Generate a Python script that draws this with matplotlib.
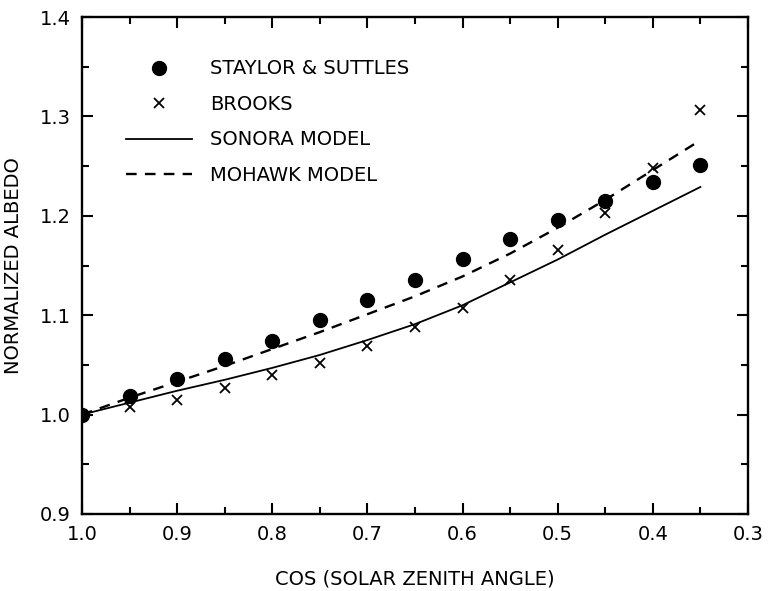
import matplotlib.pyplot as plt
from matplotlib.ticker import MultipleLocator

# cos(solar zenith angle) values
cos_sza = [1.0, 0.95, 0.9, 0.85, 0.8, 0.75, 0.7, 0.65, 0.6, 0.55, 0.5, 0.45, 0.4, 0.35]

staylor = [1.000, 1.019, 1.036, 1.056, 1.074, 1.095, 1.115, 1.135, 1.157, 1.177, 1.196, 1.215, 1.234, 1.251]
brooks = [1.000, 1.008, 1.015, 1.027, 1.040, 1.052, 1.069, 1.088, 1.107, 1.135, 1.166, 1.203, 1.248, 1.306]

# model curves
sonora = [1.000, 1.012, 1.024, 1.035, 1.047, 1.060, 1.075, 1.091, 1.110, 1.133, 1.156, 1.181, 1.205, 1.229]
mohawk = [1.000, 1.017, 1.033, 1.049, 1.066, 1.083, 1.101, 1.119, 1.139, 1.162, 1.188, 1.216, 1.246, 1.276]

plt.rcParams["font.family"] = "DejaVu Sans"

fig = plt.figure(figsize=(7.69, 5.91), dpi=100)
ax = fig.add_axes([0.1066, 0.1303, 0.866, 0.8409])

ax.plot(cos_sza, staylor, "o", color="black", markersize=10, label="STAYLOR & SUTTLES")
ax.plot(cos_sza, brooks, "x", color="black", markersize=7, markeredgewidth=1.3, label="BROOKS")
ax.plot(cos_sza, sonora, "-", color="black", linewidth=1.3, label="SONORA MODEL")
ax.plot(cos_sza, mohawk, "--", color="black", linewidth=1.7, dashes=(4.5, 3.5), label="MOHAWK MODEL")

ax.set_xlim(1.0, 0.3)
ax.set_ylim(0.9, 1.4)
ax.xaxis.set_major_locator(MultipleLocator(0.1))
ax.xaxis.set_minor_locator(MultipleLocator(0.05))
ax.yaxis.set_major_locator(MultipleLocator(0.1))
ax.yaxis.set_minor_locator(MultipleLocator(0.05))
ax.xaxis.set_major_formatter(plt.FuncFormatter(lambda v, p: f"{v:.1f}"))
ax.yaxis.set_major_formatter(plt.FuncFormatter(lambda v, p: f"{v:.1f}"))

ax.tick_params(which="both", direction="in", top=True, right=True, width=1.5)
ax.tick_params(which="major", length=8, labelsize=14, pad=8)
ax.tick_params(which="minor", length=5)
for s in ax.spines.values():
    s.set_linewidth(1.7)

ax.set_xlabel("COS (SOLAR ZENITH ANGLE)", fontsize=14, labelpad=18)
ax.set_ylabel("NORMALIZED ALBEDO", fontsize=14, labelpad=12)

ax.legend(loc="upper left", bbox_to_anchor=(0.04, 0.95), frameon=False, fontsize=14,
          handlelength=3.4, handletextpad=0.9, labelspacing=0.85)

fig.savefig("out.png", dpi=100)
